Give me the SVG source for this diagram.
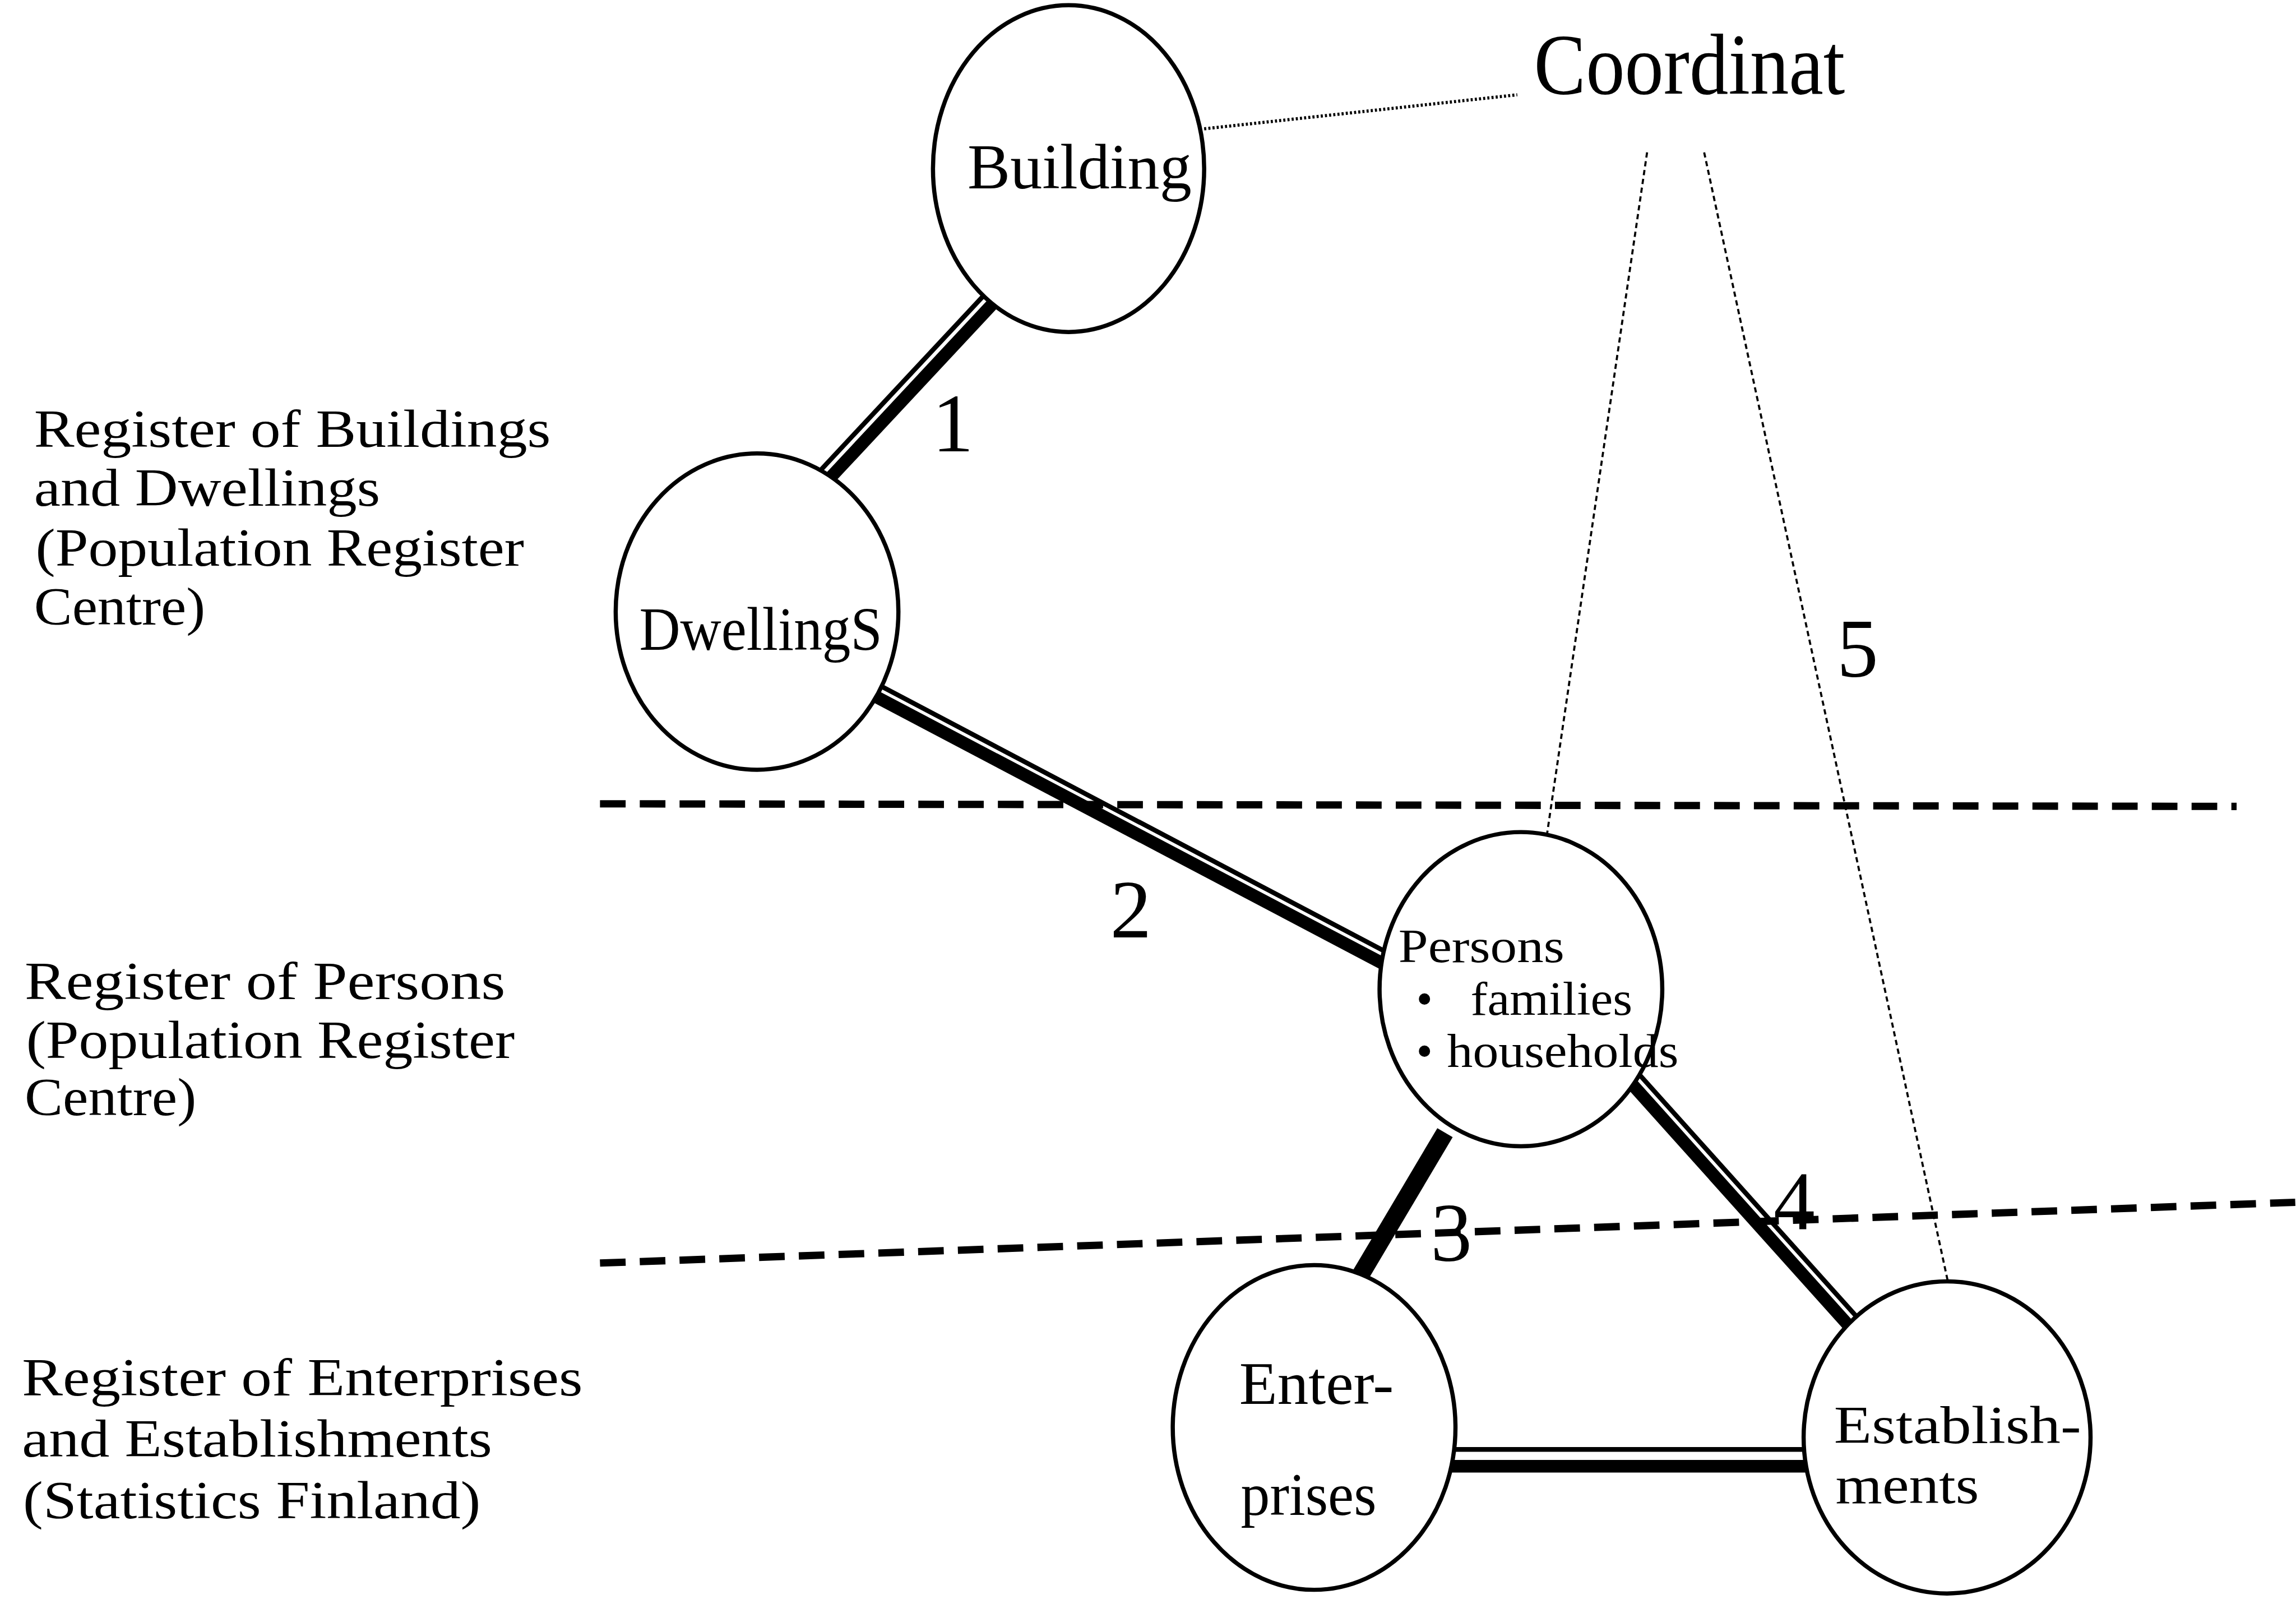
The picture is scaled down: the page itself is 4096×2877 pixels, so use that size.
<svg xmlns="http://www.w3.org/2000/svg" width="4096" height="2877" viewBox="0 0 4096 2877">
  <style>
    .txt { font-family: "Liberation Serif", "DejaVu Serif", serif; fill: #000; }
    .node ellipse { fill: #fff; stroke: #000; stroke-width: 8; }
    .thin { stroke: #000; stroke-width: 9; fill: none; }
    .thick { stroke: #000; stroke-width: 24; fill: none; }
    .heavy { stroke: #000; stroke-width: 34; fill: none; }
    .band { stroke: #000; stroke-width: 14; stroke-dasharray: 49 27; fill: none; }
    .dots { stroke: #000; stroke-width: 6; stroke-dasharray: 4 4; fill: none; }
    .fine { stroke: #000; stroke-width: 4; stroke-dasharray: 10 7; fill: none; }
  </style>
  <rect width="4096" height="2877" fill="#fff"/>
  <g transform="scale(0.934)">
    <!-- register bands -->
    <g id="bands">
      <line class="band" x1="1146" y1="1535" x2="4272" y2="1540"/>
      <line class="band" x1="1146" y1="2412" x2="4384" y2="2296"/>
    </g>

    <!-- register captions -->
    <g id="captions" class="txt" font-size="102">
      <text x="65" y="853" textLength="987" lengthAdjust="spacingAndGlyphs">Register of Buildings</text>
      <text x="65" y="966" textLength="661" lengthAdjust="spacingAndGlyphs">and Dwellings</text>
      <text x="68" y="1080" textLength="933" lengthAdjust="spacingAndGlyphs">(Population Register</text>
      <text x="65" y="1193" textLength="327" lengthAdjust="spacingAndGlyphs">Centre)</text>

      <text x="47" y="1908" textLength="918" lengthAdjust="spacingAndGlyphs">Register of Persons</text>
      <text x="50" y="2020" textLength="933" lengthAdjust="spacingAndGlyphs">(Population Register</text>
      <text x="47" y="2130" textLength="328" lengthAdjust="spacingAndGlyphs">Centre)</text>

      <text x="42" y="2665" textLength="1071" lengthAdjust="spacingAndGlyphs">Register of Enterprises</text>
      <text x="42" y="2782" textLength="898" lengthAdjust="spacingAndGlyphs">and Establishments</text>
      <text x="44" y="2899" textLength="874" lengthAdjust="spacingAndGlyphs">(Statistics Finland)</text>
    </g>

    <!-- coordinate links and relationship lines -->
    <g id="connectors">
      <line class="dots" x1="2300" y1="246" x2="2898" y2="181"/>
      <line class="fine" x1="3146" y1="291" x2="2955" y2="1592"/>
      <line class="fine" x1="3255" y1="291" x2="3720" y2="2445"/>

      <!-- 1: Building - Dwellings -->
      <line class="thin" x1="1897" y1="545" x2="1543" y2="924"/>
      <line class="thick" x1="1914" y1="561" x2="1560" y2="940"/>
      <!-- 2: Dwellings - Persons -->
      <line class="thin" x1="1648" y1="1292" x2="2674" y2="1832"/>
      <line class="thick" x1="1638" y1="1312" x2="2664" y2="1852"/>
      <!-- 3: Persons - Enterprises -->
      <line class="heavy" x1="2760" y1="2163" x2="2589" y2="2451"/>
      <!-- 4: Persons - Establishments -->
      <line class="thin" x1="3115" y1="2034" x2="3571" y2="2542"/>
      <line class="thick" x1="3098" y1="2049" x2="3554" y2="2557"/>
      <!-- Enterprises - Establishments -->
      <line class="thin" x1="2760" y1="2768" x2="3470" y2="2768"/>
      <line class="thick" x1="2760" y1="2800" x2="3470" y2="2800"/>
    </g>

    <!-- relationship numbers -->
    <g id="numbers" class="txt" font-size="158" text-anchor="middle">
      <text x="1820" y="862">1</text>
      <text x="2160" y="1790">2</text>
      <text x="2772" y="2408">3</text>
      <text x="3427" y="2347">4</text>
      <text x="3548" y="1292">5</text>
    </g>

    <g id="coordinat" class="txt">
      <text x="2930" y="179" font-size="165" textLength="594" lengthAdjust="spacingAndGlyphs">Coordinat</text>
    </g>

    <g id="building" class="node">
      <ellipse cx="2041" cy="322" rx="259" ry="312"/>
      <text class="txt" x="1848" y="360" font-size="122" textLength="428" lengthAdjust="spacingAndGlyphs">Building</text>
    </g>

    <g id="dwellings" class="node">
      <ellipse cx="1446" cy="1168" rx="270" ry="302"/>
      <text class="txt" x="1221" y="1241" font-size="118" textLength="464" lengthAdjust="spacingAndGlyphs">DwellingS</text>
    </g>

    <g id="persons" class="node">
      <ellipse cx="2905" cy="1889" rx="270" ry="300"/>
      <text class="txt" x="2671" y="1837" font-size="90" textLength="317" lengthAdjust="spacingAndGlyphs">Persons</text>
      <text class="txt" x="2705" y="1938" font-size="90">•</text>
      <text class="txt" x="2809" y="1938" font-size="90" textLength="309" lengthAdjust="spacingAndGlyphs">families</text>
      <text class="txt" x="2705" y="2038" font-size="90">•</text>
      <text class="txt" x="2764" y="2038" font-size="90" textLength="442" lengthAdjust="spacingAndGlyphs">households</text>
    </g>

    <g id="enterprises" class="node">
      <ellipse cx="2510" cy="2726" rx="270" ry="310"/>
      <text class="txt" x="2367" y="2681" font-size="116" textLength="295" lengthAdjust="spacingAndGlyphs">Enter-</text>
      <text class="txt" x="2370" y="2893" font-size="116" textLength="259" lengthAdjust="spacingAndGlyphs">prises</text>
    </g>

    <g id="establishments" class="node">
      <ellipse cx="3719" cy="2745" rx="274" ry="298"/>
      <text class="txt" x="3503" y="2756" font-size="103" textLength="472" lengthAdjust="spacingAndGlyphs">Establish-</text>
      <text class="txt" x="3506" y="2871" font-size="103" textLength="274" lengthAdjust="spacingAndGlyphs">ments</text>
    </g>
  </g>
</svg>
